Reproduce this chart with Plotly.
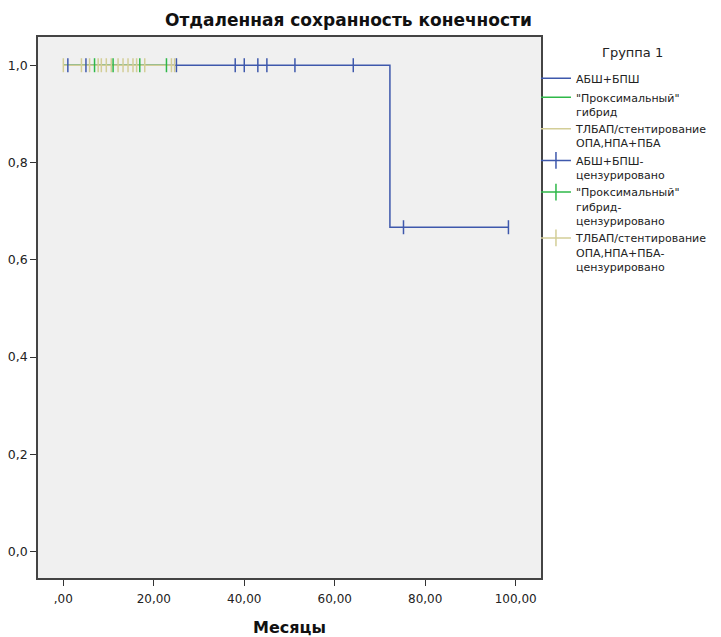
import plotly.graph_objects as go

# ---- data ----
blue_times = [0.0, 72.2, 98.4]
blue_surv = [1.0, 0.667, 0.667]
green_times = [0.0, 22.8]
green_surv = [1.0, 1.0]
yellow_times = [0.0, 24.6]
yellow_surv = [1.0, 1.0]

blue_cens_x = [1.0, 5.0, 25.0, 38.0, 40.0, 43.0, 45.0, 51.2, 64.1, 75.2, 98.4]
blue_cens_y = [1.0, 1.0, 1.0, 1.0, 1.0, 1.0, 1.0, 1.0, 1.0, 0.667, 0.667]
green_cens_x = [6.9, 11.0, 16.9, 22.8]
green_cens_y = [1.0, 1.0, 1.0, 1.0]
yellow_cens_x = [0.0, 4.0, 5.8, 7.7, 8.4, 9.5, 10.6, 12.1, 13.2, 14.3, 15.4, 16.2, 18.0, 23.9, 24.6]
yellow_cens_y = [1.0] * len(yellow_cens_x)

x_tickvals = [0, 20, 40, 60, 80, 100]
x_ticktext = [",00", "20,00", "40,00", "60,00", "80,00", "100,00"]
y_tickvals = [0.0, 0.2, 0.4, 0.6, 0.8, 1.0]
y_ticktext = ["0,0", "0,2", "0,4", "0,6", "0,8", "1,0"]

names = ["АБШ+БПШ", "\"Проксимальный\"<br>гибрид", "ТЛБАП/стентирование<br>ОПА,НПА+ПБА",
         "АБШ+БПШ-<br>цензурировано", "\"Проксимальный\"<br>гибрид-<br>цензурировано",
         "ТЛБАП/стентирование<br>ОПА,НПА+ПБА-<br>цензурировано"]

BLUE = "#3e58ac"
GREEN = "#2eb848"
YELLOW = "#d3ce97"

fig = go.Figure()
for t, s, c, n in [(blue_times, blue_surv, BLUE, names[0]),
                   (green_times, green_surv, GREEN, names[1]),
                   (yellow_times, yellow_surv, YELLOW, names[2])]:
    fig.add_trace(go.Scatter(x=t, y=s, mode="lines", line=dict(color=c, width=1.5, shape="hv"),
                             name=n, showlegend=True))

for cx, cy, c in [(blue_cens_x, blue_cens_y, BLUE),
                  (green_cens_x, green_cens_y, GREEN),
                  (yellow_cens_x, yellow_cens_y, YELLOW)]:
    fig.add_trace(go.Scatter(x=cx, y=cy, mode="markers",
                             marker=dict(symbol="line-ns-open", size=10, color=c,
                                         line=dict(color=c, width=1.5)),
                             showlegend=False))

for c, n in [(BLUE, names[3]), (GREEN, names[4]), (YELLOW, names[5])]:
    fig.add_trace(go.Scatter(x=[None], y=[None], mode="lines+markers", name=n,
                             line=dict(color=c, width=1.5),
                             marker=dict(symbol="line-ns-open", size=12, color=c,
                                         line=dict(color=c, width=1.5))))

fig.add_annotation(text="<b>Отдаленная сохранность конечности</b>", xref="paper", yref="paper",
                   x=0.618, y=1.0, yshift=17, xanchor="center", yanchor="middle", showarrow=False,
                   font=dict(size=17, color="#111111"))
fig.add_annotation(text="Группа 1", xref="paper", yref="paper",
                   x=1.181, y=1.0, yshift=-15, xanchor="center", yanchor="middle", showarrow=False,
                   font=dict(size=13, color="#222222"))

fig.update_layout(
    width=713, height=629,
    margin=dict(l=30, r=180, t=29, b=59, autoexpand=False),
    paper_bgcolor="white", plot_bgcolor="#f0f0f0",
    font=dict(family="DejaVu Sans", size=12, color="#222222"),
    legend=dict(x=0.99, y=0.949, xanchor="left", yanchor="top", valign="top",
                font=dict(size=11), tracegroupgap=0, itemwidth=30,
                bgcolor="rgba(0,0,0,0)"),
    xaxis=dict(range=[-5.6, 105.6], tickvals=x_tickvals, ticktext=x_ticktext,
               ticks="outside", ticklen=6, tickcolor="#333", showgrid=False, zeroline=False,
               showline=True, linecolor="#444", linewidth=1.5, mirror=True,
               ticklabelstandoff=3,
               title=dict(text="<b>Месяцы</b>", font=dict(size=16, color="#111"), standoff=18),
               tickfont=dict(size=12)),
    yaxis=dict(range=[-0.054, 1.058], tickvals=y_tickvals, ticktext=y_ticktext,
               ticks="outside", ticklen=6, tickcolor="#333", showgrid=False, zeroline=False,
               showline=True, linecolor="#444", linewidth=1.5, mirror=True,
               tickfont=dict(size=12.5)),
)

fig.write_html("out.html")
